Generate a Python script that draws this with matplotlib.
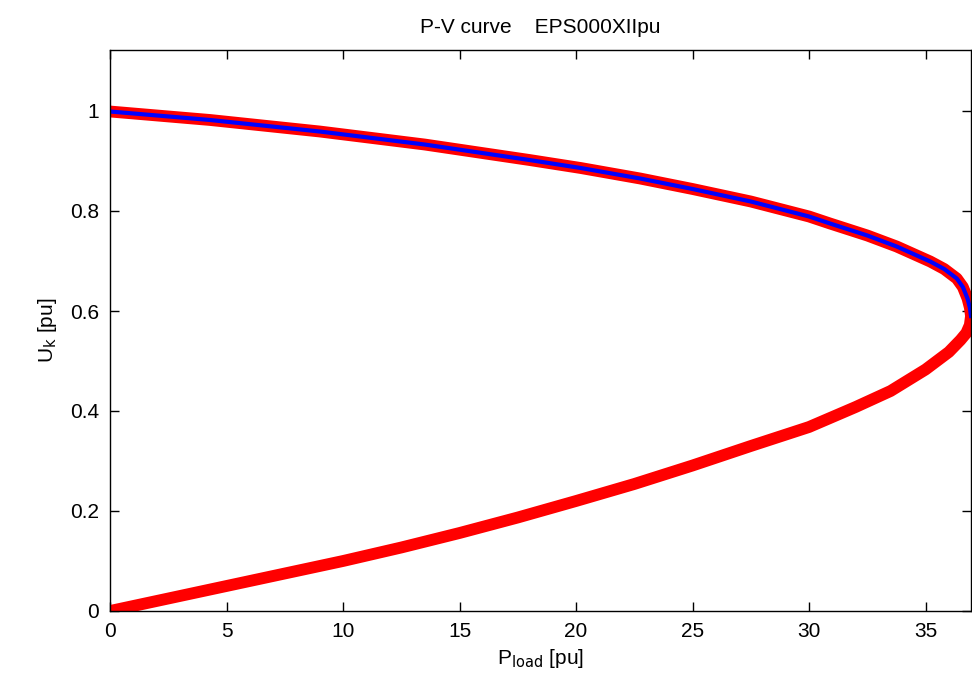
import numpy as np
import matplotlib.pyplot as plt

plt.rcParams['font.family'] = ['Liberation Sans', 'DejaVu Sans']

# upper (stable) branch
p_upper = [0.0, 4.3, 9.0, 13.5, 18.0, 20.2, 22.75, 25.0, 27.5, 30.0, 30.9, 32.5,
           33.76, 35.2, 35.8, 36.34, 36.6, 36.8, 36.9, 36.95]
u_upper = [0.999, 0.982, 0.959, 0.933, 0.902, 0.886, 0.865, 0.844, 0.819, 0.789,
           0.775, 0.751, 0.729, 0.699, 0.684, 0.665, 0.648, 0.625, 0.607, 0.590]

# lower (unstable) branch, from the nose back to the origin
p_lower = [36.95, 36.9, 36.75, 36.5, 36.0, 35.0, 33.5, 32.0, 30.0, 27.5, 25.0,
           22.5, 20.0, 17.5, 15.0, 12.5, 10.0, 7.5, 5.0, 2.5, 0.0]
u_lower = [0.590, 0.572, 0.556, 0.542, 0.518, 0.483, 0.440, 0.408, 0.368, 0.330,
           0.291, 0.254, 0.220, 0.187, 0.156, 0.127, 0.100, 0.075, 0.050, 0.025, 0.0]

p_all = p_upper + p_lower[1:]
u_all = u_upper + u_lower[1:]

fig = plt.figure(figsize=(9.72, 6.75), dpi=100)
ax = fig.add_axes([110 / 972, 64 / 675, 861 / 972, 561 / 675])

ax.plot(p_all, u_all, color='red', lw=8.5, solid_capstyle='butt', solid_joinstyle='round')
ax.plot(p_upper, u_upper, color='blue', lw=3)

ax.set_xlim(0, 36.95)
ax.set_ylim(0, 1.122)
ax.set_xticks(np.arange(0, 36, 5))
ax.set_yticks([0, 0.2, 0.4, 0.6, 0.8, 1])
ax.set_yticklabels(['0', '0.2', '0.4', '0.6', '0.8', '1'])
ax.tick_params(direction='in', length=6.5, width=1, top=True, right=True,
               labelsize=15, pad=8)
for s in ax.spines.values():
    s.set_linewidth(1)

ax.set_title('P-V curve    EPS000XIIpu', fontsize=15, pad=12)
ax.set_xlabel(r'P$_{\rm load}$ [pu]', fontsize=15, labelpad=4)
ax.set_ylabel(r'U$_{\rm k}$ [pu]', fontsize=15, labelpad=8)

fig.savefig('out.png', dpi=100)
